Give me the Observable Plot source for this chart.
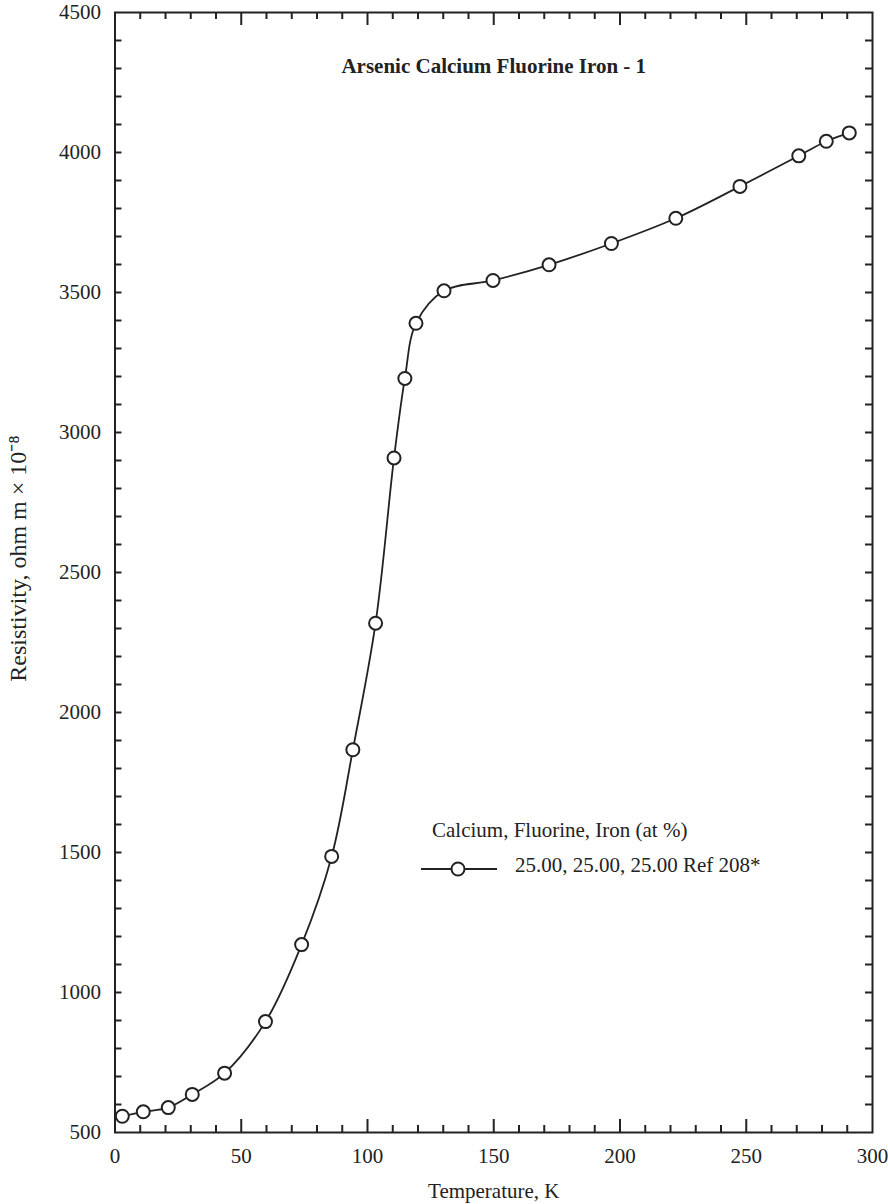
<!DOCTYPE html>
<html>
<head>
<meta charset="utf-8">
<script src="https://cdn.jsdelivr.net/npm/d3@7"></script>
<script src="https://cdn.jsdelivr.net/npm/@observablehq/plot@0.6"></script>
<style>
  html, body { margin: 0; padding: 0; background: #fff; }
  #chart { position: relative; width: 888px; height: 1204px; }
  #chart svg { display: block; }
  #legend { position: absolute; left: 0; top: 0; pointer-events: none; }
</style>
</head>
<body>
<div id="chart"></div>
<script>
// Resistivity of Arsenic Calcium Fluorine Iron - 1 versus temperature
const temperature = [2.9, 11.2, 21.1, 30.6, 43.4, 59.6, 73.9, 85.8, 94.2, 103.2, 110.5, 114.8, 119.2, 130.3, 149.7, 171.9, 196.6, 222.1, 247.5, 270.8, 281.7, 290.8];
const resistivity = [558, 574, 589, 636, 712, 896, 1171, 1486, 1867, 2319, 2909, 3193, 3390, 3506, 3543, 3599, 3675, 3765, 3879, 3988, 4040, 4070];

const xTicks = [0, 50, 100, 150, 200, 250, 300];
const yTicks = [500, 1000, 1500, 2000, 2500, 3000, 3500, 4000, 4500];

const title = "Arsenic Calcium Fluorine Iron - 1";
const xLabel = "Temperature, K";
const yLabel = "Resistivity, ohm m \u00d7 10\u207b\u2078";
const legendTitle = "Calcium, Fluorine, Iron (at %)";
const seriesName = "25.00, 25.00, 25.00 Ref 208*";

const points = temperature.map((t, i) => ({t, r: resistivity[i]}));

const W = 888, H = 1204;
const mL = 114.5, mR = 16, mT = 12, mB = 72;
const frameW = W - mL - mR, frameH = H - mT - mB;
const font = "'Liberation Serif', 'Times New Roman', serif";
const ink = "#222";

const minorX = d3.range(0, 301, 10).filter(v => v % 50 !== 0);
const majorX = d3.range(50, 300, 50);
const yAll = d3.range(600, 4500, 100);

const plot = Plot.plot({
  width: W,
  height: H,
  marginLeft: mL,
  marginRight: mR,
  marginTop: mT,
  marginBottom: mB,
  style: {fontFamily: font, background: "#fff", color: ink},
  x: {domain: [0, 300]},
  y: {domain: [500, 4500]},
  marks: [
    // inward ticks along the bottom and top edges
    Plot.ruleX(minorX, {stroke: ink, strokeWidth: 2, insetTop: frameH - 7}),
    Plot.ruleX(majorX, {stroke: ink, strokeWidth: 2, insetTop: frameH - 13}),
    Plot.ruleX(minorX, {stroke: ink, strokeWidth: 2, insetBottom: frameH - 7}),
    Plot.ruleX(majorX, {stroke: ink, strokeWidth: 2, insetBottom: frameH - 13}),
    // inward ticks along the left and right edges
    Plot.ruleY(yAll, {stroke: ink, strokeWidth: 2, insetRight: frameW - 7}),
    Plot.ruleY(yAll, {stroke: ink, strokeWidth: 2, insetLeft: frameW - 7}),
    Plot.frame({stroke: ink, strokeWidth: 2}),
    Plot.axisX({ticks: xTicks, tickFormat: d3.format("d"), tickSize: 0, tickPadding: 16, fontSize: 21, label: null}),
    Plot.axisY({ticks: yTicks, tickFormat: d3.format("d"), tickSize: 0, tickPadding: 14, fontSize: 21, label: null}),
    Plot.line(points, {x: "t", y: "r", curve: "catmull-rom", stroke: ink, strokeWidth: 1.8}),
    Plot.dot(points, {x: "t", y: "r", r: 6.5, stroke: ink, strokeWidth: 2, fill: "#fff"}),
    Plot.text([title], {frameAnchor: "top", lineAnchor: "middle", dy: 54, fontSize: 21, fontWeight: "bold", fill: ink}),
    Plot.text([xLabel], {frameAnchor: "bottom", lineAnchor: "middle", dy: 59, fontSize: 21, fill: ink}),
    Plot.text([yLabel], {frameAnchor: "left", textAnchor: "middle", lineAnchor: "middle", dx: -97, dy: -14, rotate: -90, fontSize: 24, fill: ink})
  ]
});

const chart = document.getElementById("chart");
chart.appendChild(plot);

// legend drawn over the plot area
const leg = d3.select(chart).append("svg")
  .attr("id", "legend")
  .attr("width", W)
  .attr("height", H)
  .style("font-family", font);

leg.append("text")
  .attr("x", 432).attr("y", 830)
  .attr("dy", "0.35em")
  .attr("font-size", 21)
  .attr("fill", ink)
  .text(legendTitle);

leg.append("line")
  .attr("x1", 421).attr("x2", 497)
  .attr("y1", 869).attr("y2", 869)
  .attr("stroke", ink).attr("stroke-width", 2);

leg.append("circle")
  .attr("cx", 458).attr("cy", 869).attr("r", 6.5)
  .attr("fill", "#fff").attr("stroke", ink).attr("stroke-width", 2);

leg.append("text")
  .attr("x", 515).attr("y", 865)
  .attr("dy", "0.35em")
  .attr("font-size", 21)
  .attr("fill", ink)
  .text(seriesName);
</script>
</body>
</html>
